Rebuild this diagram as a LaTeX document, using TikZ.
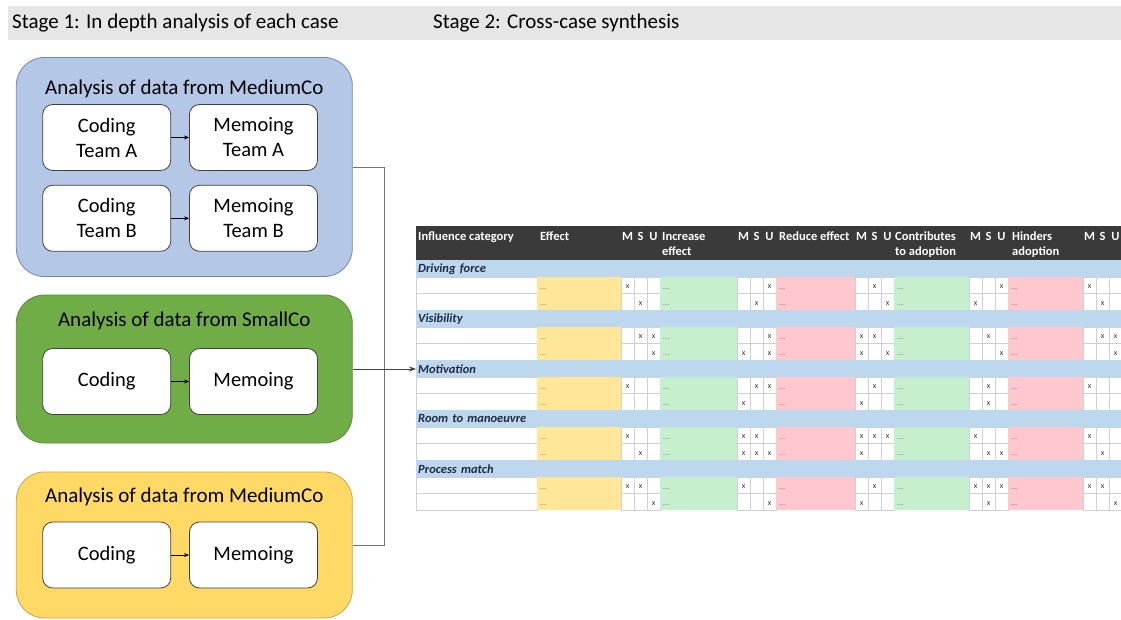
\documentclass[tikz,border=0pt]{standalone}
\usepackage{fontspec}
\setmainfont{Carlito}
\usetikzlibrary{arrows.meta, positioning}
\definecolor{stagegray}{HTML}{E7E6E6}
\definecolor{mediumblue}{HTML}{B4C7E7}
\definecolor{mediumline}{HTML}{7088B0}
\definecolor{smallgreen}{HTML}{70AD47}
\definecolor{smallline}{HTML}{5A8C3A}
\definecolor{mediumyellow}{HTML}{FFD966}
\definecolor{yellowline}{HTML}{C8A640}
\definecolor{headdark}{HTML}{3A3A3A}
\definecolor{catblue}{HTML}{BDD7EE}
\definecolor{cattext}{HTML}{1F2A44}
\definecolor{effyellow}{HTML}{FFE699}
\definecolor{posgreen}{HTML}{C6EFCE}
\definecolor{negpink}{HTML}{FFC7CE}
\definecolor{gridgray}{HTML}{D0D0D0}

\begin{document}
\begin{tikzpicture}[
        x=1pt, y=-1pt,
        node distance = 14pt and 18pt,
        casebox/.style = {rectangle, rounded corners=28pt, line width=0.8pt, minimum width=336pt},
        stepbox/.style = {draw=black!75, fill=white, rectangle, rounded corners=10pt, line width=0.8pt, minimum width=128pt, minimum height=66pt, align=center, font=\fontsize{20.5}{25}\selectfont},
        boxtitle/.style = {anchor=base, inner sep=0pt, font=\fontsize{21}{25}\selectfont},
        stagetext/.style = {anchor=west, inner sep=0pt, font=\fontsize{21}{25}\selectfont},
        flow/.style = {draw=black, -{Stealth[length=5pt, width=4pt]}, line width=0.7pt},
        link/.style = {draw=black!55, line width=0.8pt},
        headtxt/.style = {anchor=base west, inner sep=0pt, text=white, align=left, font=\fontsize{12.5}{15.5}\selectfont\bfseries},
        catrow/.style = {anchor=north west, fill=catblue, minimum width=705pt, minimum height=17pt, inner xsep=2pt, inner ysep=0pt, text width=701pt, align=left, text=cattext, font=\fontsize{12.5}{14}\selectfont\bfseries\itshape},
        cell/.style = {draw=gridgray, fill=white, line width=0.5pt},
        fillertext/.style = {anchor=base west, inner sep=0pt, font=\fontsize{6.5}{7}\selectfont},
        xmark/.style = {anchor=base, inner sep=0pt, text=black!80, font=\fontsize{8}{9}\selectfont}
    ]
        \useasboundingbox (0,0) rectangle (1121,620);

        % Stage bar
        \node (stagebar) [fill=stagegray, anchor=north west, minimum width=1113pt, minimum height=34pt, inner sep=0pt] at (8,6) {};
        \node (stage1) [stagetext] at (12,23) {Stage 1: In depth analysis of each case};
        \node (stage2) [stagetext] at (433,23) {Stage 2: Cross-case synthesis};

        % Case boxes
        \node (mediumA) [casebox, fill=mediumblue, draw=mediumline, minimum height=219pt] at (184.3,167) {};
        \node (small) [casebox, fill=smallgreen, draw=smallline, minimum height=148pt] at (184.3,369) {};
        \node (mediumB) [casebox, fill=mediumyellow, draw=yellowline, minimum height=146pt] at (184.3,545) {};

        \node (titleA) [boxtitle] at (184.3,95) {Analysis of data from MediumCo};
        \node (titleS) [boxtitle] at (184.3,326) {Analysis of data from SmallCo};
        \node (titleB) [boxtitle] at (184.3,502) {Analysis of data from MediumCo};

        % Coding and memoing
        \node (codA) [stepbox] at (106.7,137.5) {Coding\\Team A};
        \node (memA) [stepbox, right=of codA] {Memoing\\Team A};
        \node (codB) [stepbox, below=of codA] {Coding\\Team B};
        \node (memB) [stepbox, right=of codB] {Memoing\\Team B};
        \node (codS) [stepbox] at (106.7,381.5) {Coding};
        \node (memS) [stepbox, right=of codS] {Memoing};
        \node (codM) [stepbox] at (106.7,555) {Coding};
        \node (memM) [stepbox, right=of codM] {Memoing};

        \draw [flow] (codA) -- (memA);
        \draw [flow] (codB) -- (memB);
        \draw [flow] (codS) -- (memS);
        \draw [flow] (codM) -- (memM);

        % Table header
        \node (tabhead) [fill=headdark, anchor=north west, minimum width=705pt, minimum height=34pt, inner sep=0pt] at (416,226) {};
        \node [headtxt] at (418,240.5) {Influence category};
        \node [headtxt] at (540,240.5) {Effect};
        \node [headtxt] at (662,256) {Increase\\effect};
        \node [headtxt] at (779,240.5) {Reduce effect};
        \node [headtxt] at (895,256) {Contributes\\to adoption};
        \node [headtxt] at (1012,256) {Hinders\\adoption};
        \foreach \gx in {621,737,855,969,1083}
            \foreach \l [count=\c from 0] in {M,S,U}
                \node [headtxt, anchor=base] at (\gx+13*\c+6.5,240.5) {\l};

        % Table rows
        \foreach \k/\cat in {0/Driving force,1/Visibility,2/Motivation,3/Room to manoeuvre,4/Process match} {
            \pgfmathsetmacro\yt{260+50*\k}
            \node (cat\k) [catrow] at (416,\yt) {\cat};
            \foreach \r in {0,1} {
                \pgfmathsetmacro\yr{\yt+17+16.5*\r}
                \draw [cell] (416,\yr) rectangle ++(121,16.5);
                \foreach \gx in {621,737,855,969,1083}
                    \foreach \c in {0,1,2}
                        \draw [cell] (\gx+13*\c,\yr) rectangle ++(13,16.5);
            }
            \foreach \bx/\bw/\bc in {537/84/effyellow,660/77/posgreen,776/79/negpink,894/75/posgreen,1008/75/negpink} {
                \fill [\bc] (\bx,\yt+17) rectangle ++(\bw,33);
                \node [fillertext, text=\bc!45!black] at (\bx+3,\yt+29) {....};
                \node [fillertext, text=\bc!45!black] at (\bx+3,\yt+45.5) {....};
            }
        }

        % Ratings
        \foreach \yy/\xs in {277/{1,6,8,12,13}, 293.5/{2,5,9,10,14},
                             327/{2,3,6,7,8,11,14,15}, 343.5/{3,4,6,7,9,12,15},
                             377/{1,5,6,8,11,13}, 393.5/{4,7,11},
                             427/{1,4,5,7,8,9,10,13}, 443.5/{2,4,5,6,7,11,12,14},
                             477/{1,2,4,8,10,11,12,13,14}, 493.5/{3,6,7,11,15}}
            \foreach \i in \xs {
                \pgfmathsetmacro\xc{{621,737,855,969,1083}[int((\i-1)/3)]+13*mod(\i-1,3)+6.5}
                \node [xmark] at (\xc,\yy+11.5) {x};
            }

        % Connections
        \draw [link] (mediumA.east) -- ++(32,0) |- (mediumB.east);
        \draw [link, draw=black!75, -{Stealth[length=7pt, width=5pt]}] (small.east) -- (small.east -| cat2.west);

    \end{tikzpicture}
\end{document}
